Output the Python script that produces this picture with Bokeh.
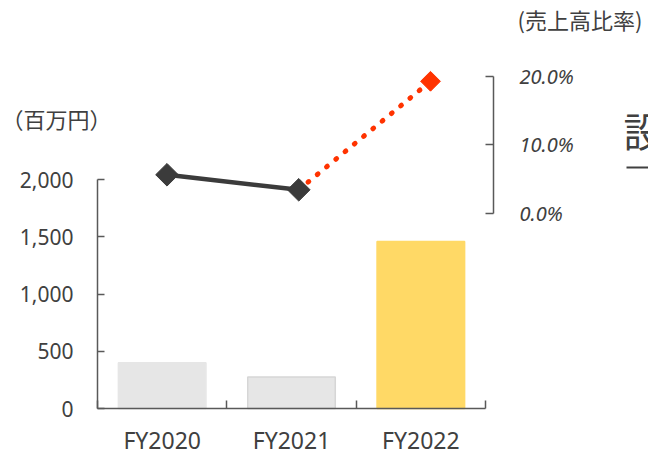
import numpy as np
from bokeh.plotting import figure
from bokeh.models import (Range1d, LinearAxis, FixedTicker, NumeralTickFormatter,
                          PrintfTickFormatter, Label, Arrow)
from bokeh.embed import file_html
from bokeh.resources import INLINE

# ---- data ----
categories = ["FY2020", "FY2021", "FY2022"]
capex = [400, 275, 1460]          # 百万円
ratio = [5.6, 3.4, 19.3]          # 売上高比率 (%)
bar_fill = ["#e6e6e6", "#e6e6e6", "#ffd966"]
bar_edge = ["#e6e6e6", "#d6d6d6", "#ffd966"]
left_ticks = [0, 500, 1000, 1500, 2000]
right_ticks = [0, 10, 20]
left_title = "（百万円）"
right_title = "(売上高比率)"
side_text = "設備投資"

# ---- layout (canvas pixels; the plot frame covers the whole canvas) ----
W, H = 648, 455
AX_L, AX_R, AX_B = 97, 493, 408        # axis line positions
unit_x = (485 - AX_L) / 3.0            # px per category
unit_y = (AX_B - 179.3) / 2000.0       # px per 百万円
p0, unit_p = 212.5, (212.5 - 76.0) / 20.0   # 0% position, px per %
line_x0, line_dx = 166.5, 131.75       # line chart category spacing

def dx(px):
    return (px - AX_L) / unit_x

def dy(py):
    return (AX_B - py) / unit_y

p = figure(width=W, height=H, output_backend="svg", toolbar_location=None,
           title=None, x_range=Range1d(dx(0), dx(W)), y_range=Range1d(dy(H), dy(0)),
           min_border=0, min_border_left=0, min_border_right=0,
           min_border_top=0, min_border_bottom=0)
p.outline_line_color = None
p.xgrid.visible = False
p.ygrid.visible = False
p.background_fill_color = "white"
p.border_fill_color = "white"

p.extra_x_ranges = {"line": Range1d(0.5 - line_x0 / line_dx, 0.5 + (W - line_x0) / line_dx)}
p.extra_y_ranges = {"pct": Range1d(-(H - p0) / unit_p, p0 / unit_p)}

xc = np.arange(len(categories)) + 0.5

# bars
p.vbar(x=xc, top=capex, bottom=0, width=0.677, fill_color=bar_fill,
       line_color=bar_edge, line_width=1.5)

# ratio line
p.line(x=xc[1:], y=ratio[1:], x_range_name="line", y_range_name="pct",
       line_color="#ff3300", line_width=5, line_dash="1 11", line_cap="round")
p.line(x=xc[:2], y=ratio[:2], x_range_name="line", y_range_name="pct",
       line_color="#3b3b3b", line_width=4.5)
p.scatter(x=xc[:2], y=ratio[:2], x_range_name="line", y_range_name="pct",
          marker="square", angle=np.pi / 4, size=16,
          fill_color="#3b3b3b", line_color="#3b3b3b")
p.scatter(x=xc[2:], y=ratio[2:], x_range_name="line", y_range_name="pct",
          marker="square", angle=np.pi / 4, size=14,
          fill_color="#ff3300", line_color="#ff3300")

axis_col = "#595959"
text_col = "#404040"

# bottom axis
xa = p.xaxis[0]
xa.fixed_location = 0
xa.ticker = FixedTicker(ticks=list(xc), minor_ticks=list(range(len(categories) + 1)))
xa.major_label_overrides = {float(v): c for v, c in zip(xc, categories)}
xa.bounds = (0, len(categories))
xa.major_tick_in = 0
xa.major_tick_out = 0
xa.minor_tick_in = 8
xa.minor_tick_out = 0
xa.minor_tick_line_color = axis_col
xa.minor_tick_line_width = 1.5
xa.axis_line_color = axis_col
xa.axis_line_width = 1.5
xa.major_label_text_font = "Noto Sans"
xa.major_label_text_font_size = "23px"
xa.major_label_text_color = text_col
xa.major_label_standoff = 15

# left axis
ya = p.yaxis[0]
ya.fixed_location = 0
ya.ticker = FixedTicker(ticks=left_ticks)
ya.formatter = NumeralTickFormatter(format="0,0")
ya.bounds = (0, 2000)
ya.major_tick_in = 7
ya.major_tick_out = 0
ya.minor_tick_in = 0
ya.minor_tick_out = 0
ya.major_tick_line_color = axis_col
ya.major_tick_line_width = 1.5
ya.axis_line_color = axis_col
ya.axis_line_width = 1.5
ya.major_label_text_font = "Noto Sans"
ya.major_label_text_font_size = "21px"
ya.major_label_text_color = text_col
ya.major_label_standoff = 24

# right axis
ra = LinearAxis(y_range_name="pct", ticker=FixedTicker(ticks=right_ticks),
                formatter=PrintfTickFormatter(format="%.1f%%"), bounds=(0, 20),
                fixed_location=dx(AX_R))
ra.major_tick_in = 8
ra.major_tick_out = 0
ra.minor_tick_in = 0
ra.minor_tick_out = 0
ra.major_tick_line_color = axis_col
ra.major_tick_line_width = 1.5
ra.axis_line_color = axis_col
ra.axis_line_width = 1.5
ra.major_label_text_font = "Noto Sans"
ra.major_label_text_font_size = "20px"
ra.major_label_text_font_style = "italic"
ra.major_label_text_color = text_col
ra.major_label_standoff = 26
p.add_layout(ra, "right")

# text annotations
cjk = "Noto Sans CJK JP"
p.add_layout(Label(x=dx(1), y=dy(117), text=left_title, text_font=cjk,
                   text_font_size="22px", text_color=text_col, text_baseline="middle"))
p.add_layout(Label(x=dx(517), y=dy(18), text=right_title, text_font=cjk,
                   text_font_size="22px", text_color=text_col, text_baseline="middle"))
p.add_layout(Label(x=dx(623), y=dy(129), text=side_text, text_font=cjk,
                   text_font_size="40px", text_color=text_col, text_baseline="middle"))
p.add_layout(Arrow(end=None, x_start=dx(626), y_start=dy(167), x_end=dx(700), y_end=dy(167),
                   line_color=text_col, line_width=2))

open("out.html", "w").write(file_html(p, INLINE))
